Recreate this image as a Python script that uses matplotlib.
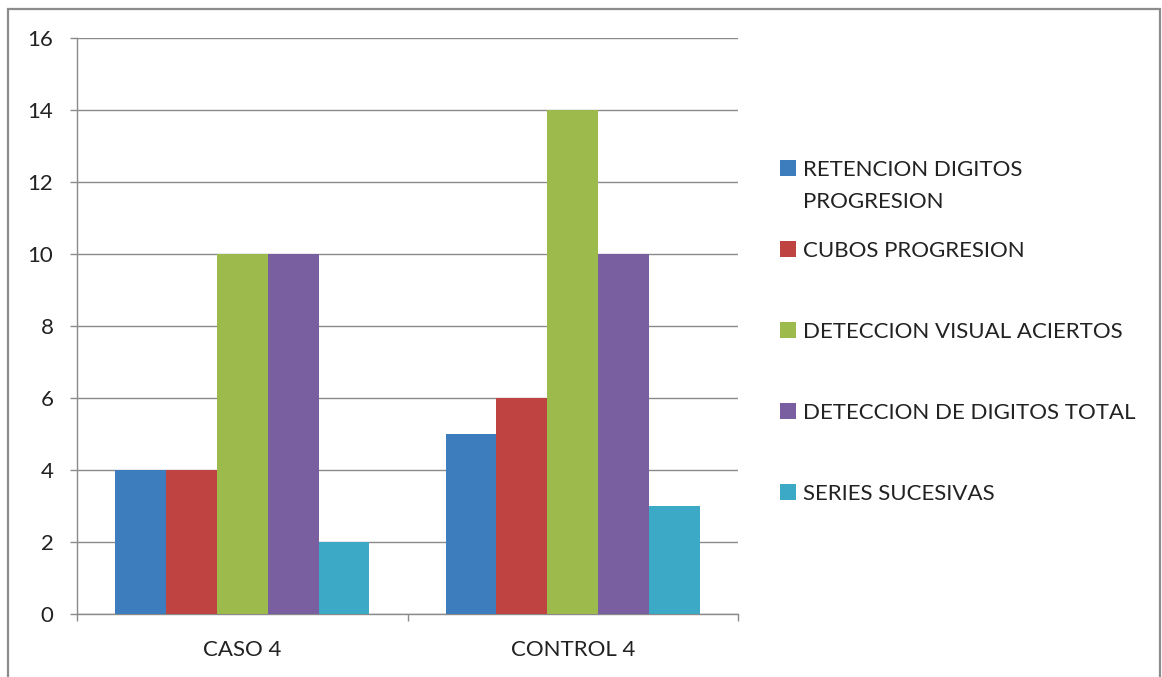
import matplotlib
matplotlib.use("Agg")
import matplotlib.pyplot as plt
from matplotlib.patches import Rectangle
from matplotlib import font_manager
import numpy as np

# Data
groups = ["CASO 4", "CONTROL 4"]
series_names = [
    "RETENCION DIGITOS PROGRESION",
    "CUBOS PROGRESION",
    "DETECCION VISUAL ACIERTOS",
    "DETECCION DE DIGITOS TOTAL",
    "SERIES SUCESIVAS",
]
retencion = [4, 5]
cubos = [4, 6]
deteccion_visual = [10, 14]
deteccion_digitos = [10, 10]
series_sucesivas = [2, 3]
y_ticks = [0, 2, 4, 6, 8, 10, 12, 14, 16]

series_values = [retencion, cubos, deteccion_visual, deteccion_digitos, series_sucesivas]
colors = ["#3E7DBD", "#BF4341", "#9DBA4D", "#7A5FA0", "#3CA9C6"]

available = {f.name for f in font_manager.fontManager.ttflist}
family = "Lato" if "Lato" in available else "DejaVu Sans"
plt.rcParams["font.family"] = [family, "DejaVu Sans"]
FS = 16
TXT = "#222222"
GRID = "#8a8a8a"

W, H = 1162, 677
fig = plt.figure(figsize=(W / 100, H / 100), dpi=100)
fig.patch.set_facecolor("white")

ax = fig.add_axes([77 / W, 1 - 614 / H, (738 - 77) / W, (614 - 38) / H])

n = len(series_values)
width = 1 / (n + 1.5)
x = np.arange(len(groups))
for i, (vals, col) in enumerate(zip(series_values, colors)):
    ax.bar(x + (i - (n - 1) / 2) * width, vals, width=width, color=col,
           label=series_names[i], zorder=3, linewidth=0)

ax.set_xlim(-0.5, len(groups) - 0.5)
ax.set_ylim(0, 16)
ax.set_yticks(y_ticks)
ax.set_yticklabels([str(v) for v in y_ticks])
ax.yaxis.grid(True, color=GRID, linewidth=1.0, zorder=0)
ax.set_axisbelow(True)

# category boundaries carry the tick marks, labels sit at the centres
ax.set_xticks(np.arange(len(groups) + 1) - 0.5)
ax.set_xticklabels([])
ax.set_xticks(x, minor=True)
ax.set_xticklabels(groups, minor=True)
ax.tick_params(axis="x", which="major", length=5, width=1, color=GRID, direction="out")
ax.tick_params(axis="x", which="minor", length=0, pad=19, labelsize=FS, labelcolor=TXT)
ax.tick_params(axis="y", length=5, width=1, color=GRID, direction="out",
               pad=12, labelsize=FS, labelcolor=TXT)

for side in ["top", "right"]:
    ax.spines[side].set_visible(False)
for side in ["left", "bottom"]:
    ax.spines[side].set_color(GRID)
    ax.spines[side].set_linewidth(1.0)

# legend with the first entry's label wrapped onto a second line
handles, labels = ax.get_legend_handles_labels()
labels[0] = "RETENCION DIGITOS"
leg = fig.legend(handles, labels, loc="upper left",
                 bbox_to_anchor=(780 / W, 1 - 160 / H),
                 frameon=False, fontsize=FS, borderpad=0, borderaxespad=0,
                 handlelength=0.72, handleheight=0.72, handletextpad=0.32,
                 labelspacing=2.74)
for t in leg.get_texts():
    t.set_color(TXT)

fig.canvas.draw()
renderer = fig.canvas.get_renderer()
bb = leg.get_texts()[0].get_window_extent(renderer)
fig.text(bb.x0 / W, (bb.y0 - 32) / H, "PROGRESION", fontsize=FS, color=TXT,
         ha="left", va="bottom")

# outer chart border
fig.patches.append(Rectangle((8 / W, -0.05), (1160 - 8) / W, 1.05 - 9 / H,
                             transform=fig.transFigure, fill=False,
                             edgecolor="#8c8c8c", linewidth=1.6))

fig.savefig("out.png", dpi=100)
